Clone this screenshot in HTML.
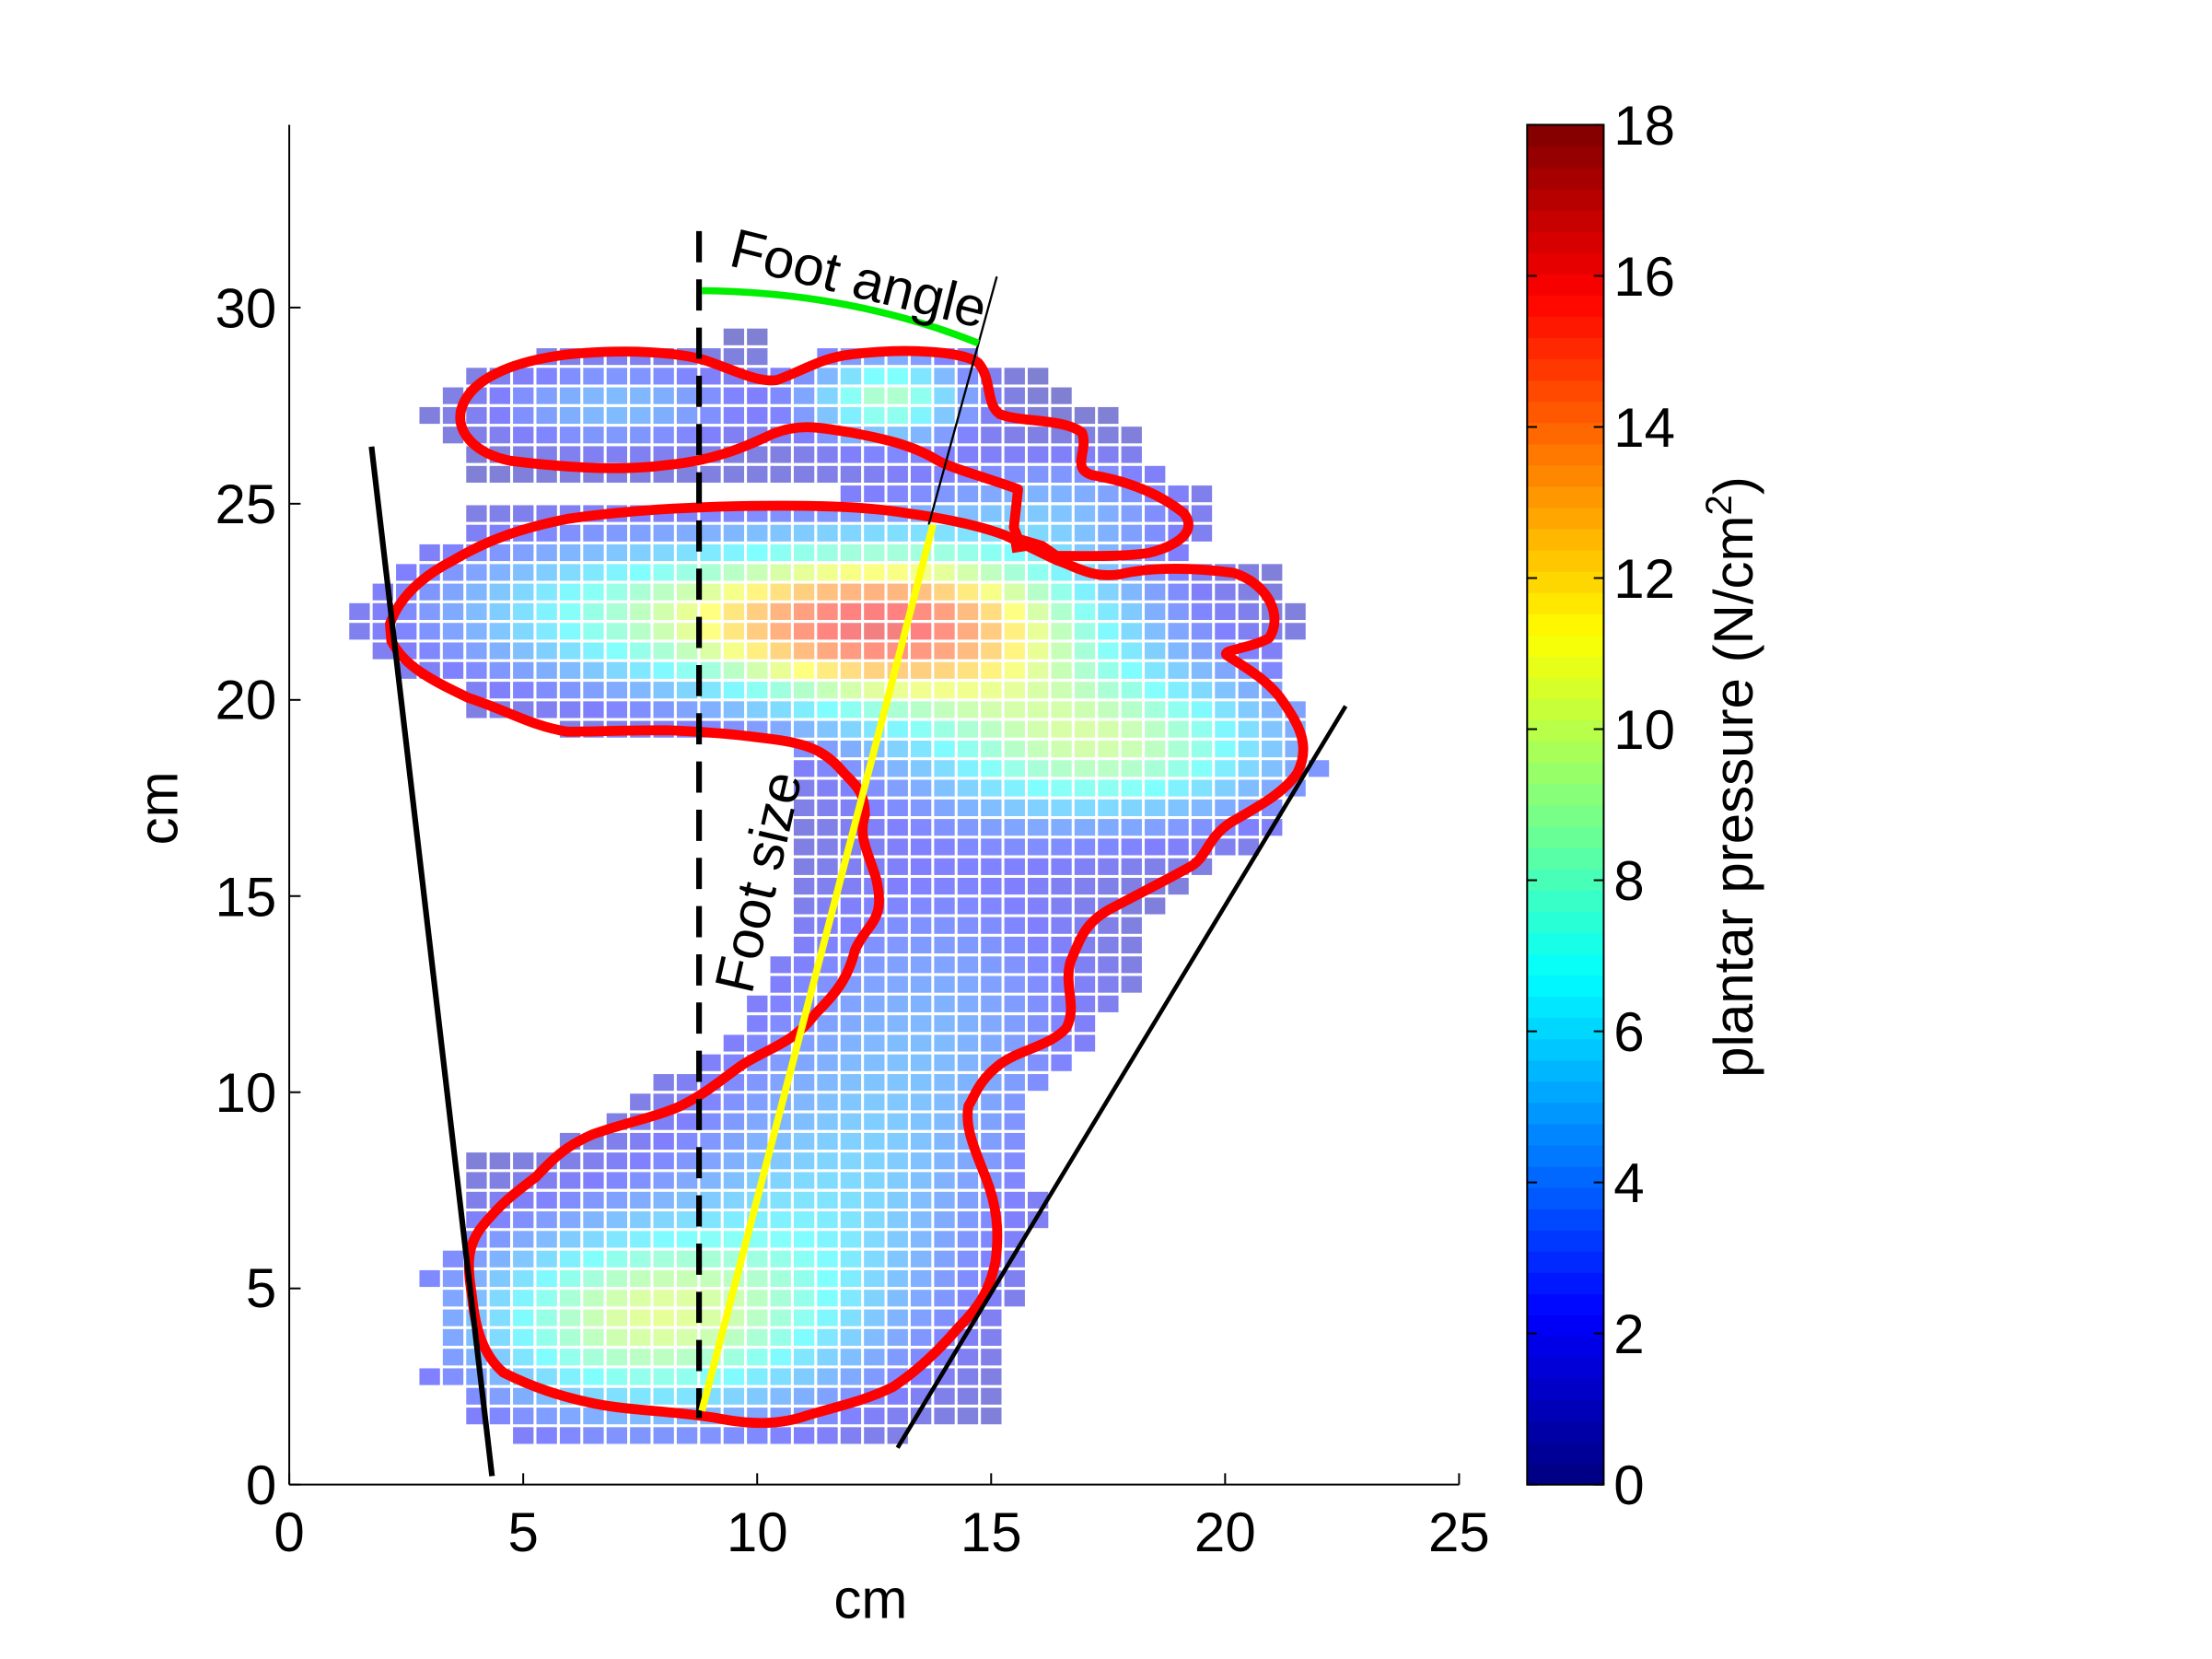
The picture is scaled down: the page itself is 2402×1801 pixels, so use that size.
<!DOCTYPE html>
<html><head><meta charset="utf-8"><style>
html,body{margin:0;padding:0;background:#fff;}
svg{display:block;}
text{font-family:"Liberation Sans",Arial,sans-serif;fill:#000;}
</style></head><body>
<svg id="s" width="2402" height="1801" viewBox="0 0 1560 1170" preserveAspectRatio="none" xmlns="http://www.w3.org/2000/svg">
<g id="cells"></g>
<g id="cb"></g>
<line x1="204" y1="88" x2="204" y2="1047" stroke="#000" stroke-width="1.3"/>
<line x1="204" y1="1047" x2="1029" y2="1047" stroke="#000" stroke-width="1.3"/>
<g id="ticks" stroke="#000" stroke-width="1.3"></g>
<g font-size="39" text-anchor="end">
<text x="195" y="1061">0</text><text x="195" y="922">5</text><text x="195" y="784">10</text>
<text x="195" y="646">15</text><text x="195" y="507">20</text><text x="195" y="369">25</text><text x="195" y="231">30</text>
</g>
<g font-size="39" text-anchor="middle">
<text x="204" y="1094">0</text><text x="369" y="1094">5</text><text x="534" y="1094">10</text>
<text x="699" y="1094">15</text><text x="864" y="1094">20</text><text x="1029" y="1094">25</text>
<text x="614" y="1141">cm</text>
</g>
<text font-size="39" text-anchor="middle" transform="translate(125,570) rotate(-90)">cm</text>
<g fill="none" stroke="#ff0000" stroke-width="7" stroke-linejoin="round">
<path d="M325,290 C330,268 360,255 400,250 C440,246 480,248 500,255 C520,262 535,270 548,268 C565,262 580,252 600,250 C640,245 680,248 690,256 C700,268 695,285 705,292 C720,298 750,295 763,305 C768,318 755,330 770,335 C800,340 820,350 835,362 C845,375 830,385 810,390 C790,393 760,392 745,392 L735,385 L718,380 L715,372 L718,345 C690,335 670,330 660,324 C640,312 615,308 600,305 C580,302 565,298 545,306 C520,318 500,325 470,328 C440,332 400,330 360,325 C335,320 322,305 325,290 Z"/>
<path d="M275,440 C282,420 300,405 320,395 C345,380 370,372 400,366 C440,360 480,358 520,357 C570,356 610,357 640,362 C670,366 695,372 710,378 L745,395 C760,400 770,408 790,405 C810,400 840,400 870,404 C895,412 905,435 895,450 C880,458 862,458 865,462 C880,472 895,480 905,495 C915,510 925,525 915,545 C905,560 885,570 868,580 C850,592 852,605 838,612 C820,622 800,632 785,640 C765,650 762,662 755,678 C750,695 760,710 752,725 C740,738 720,740 706,750 C690,762 688,772 683,780 C680,795 688,812 695,830 C703,850 705,868 702,890 C698,910 690,922 677,935 C660,955 645,968 630,978 C610,988 590,992 570,998 C550,1005 530,1005 505,1000 C475,995 445,995 420,990 C395,985 375,978 355,968 C340,955 335,935 333,915 C330,895 328,880 340,865 C352,850 362,842 378,830 C392,815 400,808 418,800 C440,792 462,788 480,780 C500,770 510,760 525,750 C545,738 560,735 575,715 C590,700 598,690 603,670 C612,650 625,650 618,620 C612,600 605,590 610,575 C610,560 605,555 595,545 C583,530 570,525 550,522 C520,518 500,516 470,515 C440,515 415,516 400,516 C375,512 360,502 330,492 C305,480 285,470 276,452 Z"/>
</g>
<path d="M712,378 L734,387 L714,390 Z" fill="#ff0000"/>
<line x1="262" y1="315" x2="347" y2="1041" stroke="#000" stroke-width="4"/>
<line x1="633" y1="1021" x2="949" y2="498" stroke="#000" stroke-width="3"/>
<line x1="655" y1="370" x2="703" y2="195" stroke="#000" stroke-width="1.5"/>
<line x1="493" y1="163" x2="493" y2="1000" stroke="#000" stroke-width="4" stroke-dasharray="22,12"/>
<line x1="495" y1="995" x2="658" y2="370" stroke="#ffff00" stroke-width="5"/>
<path d="M495,205 Q600,206 690,242" fill="none" stroke="#00ee00" stroke-width="5"/>
<text font-size="39" transform="translate(513,187) rotate(14)">Foot angle</text>
<text font-size="39" transform="translate(530,702) rotate(-77)">Foot size</text>
<rect x="1077" y="88" width="54" height="959" fill="none" stroke="#000" stroke-width="1.3"/>
<g id="cbt" stroke="#000" stroke-width="1.3"></g>
<g font-size="39" id="cbl"></g>
<text font-size="39" transform="translate(1236,760) rotate(-90)">plantar pressure (N/cm<tspan font-size="26" dy="-15">2</tspan><tspan dy="15">)</tspan></text>
</svg>
<script>
var NS="http://www.w3.org/2000/svg";
function el(p,t,a){var e=document.createElementNS(NS,t);for(var k in a)e.setAttribute(k,a[k]);p.appendChild(e);return e;}
function jet(t){t=Math.max(0,Math.min(1,t));function c(v){return Math.round(255*Math.max(0,Math.min(1,v)));}
return [c(1.5-Math.abs(4*t-3)),c(1.5-Math.abs(4*t-2)),c(1.5-Math.abs(4*t-1))];}
function X(x){return 204+33*x;} function Y(y){return 1047-27.67*y;}
var rows={29.25:[[9.3,10.2]],28.75:[[5.3,10.2],[11.5,14.8]],28.25:[[3.7,16.1]],27.75:[[3.2,16.6]],27.25:[[2.7,17.6]],26.75:[[3.2,18.1]],26.25:[[3.7,18.1]],25.75:[[3.7,18.6]],25.25:[[11.8,19.6]],24.75:[[3.7,19.6]],24.25:[[3.7,19.6]],23.75:[[2.8,19.1]],23.25:[[2.2,21.1]],22.75:[[1.7,21.1]],22.25:[[1.3,21.6]],21.75:[[1.3,21.6]],21.25:[[1.7,21.1]],20.75:[[2.2,21.1]],20.25:[[3.7,21.1]],19.75:[[3.7,21.6]],19.25:[[5.8,21.6]],18.75:[[10.8,21.6]],18.25:[[10.8,22.1]],17.75:[[10.8,21.6]],17.25:[[10.8,21.1]],16.75:[[10.8,21.1]],16.25:[[10.8,20.6]],15.75:[[10.8,19.6]],15.25:[[10.8,19.1]],14.75:[[10.8,18.6]],14.25:[[10.8,18.1]],13.75:[[10.8,18.1]],13.25:[[10.2,18.1]],12.75:[[10.2,18.1]],12.25:[[9.7,17.6]],11.75:[[9.7,17.1]],11.25:[[9.2,17.1]],10.75:[[8.7,16.6]],10.25:[[7.7,16.1]],9.75:[[7.2,15.6]],9.25:[[6.7,15.6]],8.75:[[5.7,15.6]],8.25:[[3.7,15.6]],7.75:[[3.7,15.6]],7.25:[[3.7,16.1]],6.75:[[3.7,16.1]],6.25:[[3.7,15.6]],5.75:[[3.2,15.6]],5.25:[[2.7,15.6]],4.75:[[3.2,15.6]],4.25:[[3.2,15.1]],3.75:[[3.2,15.1]],3.25:[[3.2,15.1]],2.75:[[2.7,15.1]],2.25:[[3.7,15.1]],1.75:[[3.7,15.1]],1.25:[[4.7,13.1]]};
function g(x,y,a,cx,cy,sx,sy){return a*Math.exp(-((x-cx)*(x-cx)/(2*sx*sx)+(y-cy)*(y-cy)/(2*sy*sy)));}
function P(x,y){return 0.5+g(x,y,15,12.8,21.9,3.2,1.5)+g(x,y,8.5,17.5,18.8,3,1.4)+g(x,y,5,6.5,22.3,3,1.4)
+g(x,y,9,7.5,4.2,2.8,1.8)+g(x,y,4,11.5,7,2.5,3)+g(x,y,3,14,12,2.5,3)+g(x,y,8,12.8,27.7,1.2,0.8)+g(x,y,4,7,27.5,2,0.8)+g(x,y,3,16.5,25,2,1);}
var cg=document.getElementById("cells");
for(var ky in rows){var y=parseFloat(ky);rows[ky].forEach(function(s){
for(var cx=1.5;cx<23;cx+=0.5){if(cx>=s[0]&&cx<=s[1]){var v=P(cx,y),c=jet(v/18);
var r=[0,1,2].map(function(i){return Math.round(255-0.5*(255-c[i]));});
el(cg,"rect",{x:(X(cx-0.25)+1).toFixed(1),y:(Y(y+0.25)+1).toFixed(1),width:14.5,height:11.8,fill:"rgb("+r+")"});}}});}
var cb=document.getElementById("cb");var n=64,h=959/n;
for(var i=0;i<n;i++){var c=jet((i+0.5)/n);el(cb,"rect",{x:1077,y:(1047-(i+1)*h).toFixed(2),width:54,height:(h+0.6).toFixed(2),fill:"rgb("+c+")"});}
var tk=document.getElementById("ticks");
for(var i=0;i<=6;i++){var yy=Y(5*i);el(tk,"line",{x1:204,y1:yy,x2:212,y2:yy});}
for(var i=0;i<=5;i++){var xx=X(5*i);el(tk,"line",{x1:xx,y1:1047,x2:xx,y2:1039});}
var cbt=document.getElementById("cbt"),cbl=document.getElementById("cbl");
for(var v=0;v<=18;v+=2){var yy=1047-959*v/18;el(cbt,"line",{x1:1077,y1:yy,x2:1084,y2:yy});el(cbt,"line",{x1:1124,y1:yy,x2:1131,y2:yy});
var t=el(cbl,"text",{x:1138,y:yy+14});t.textContent=v;}
</script>
</body></html>
